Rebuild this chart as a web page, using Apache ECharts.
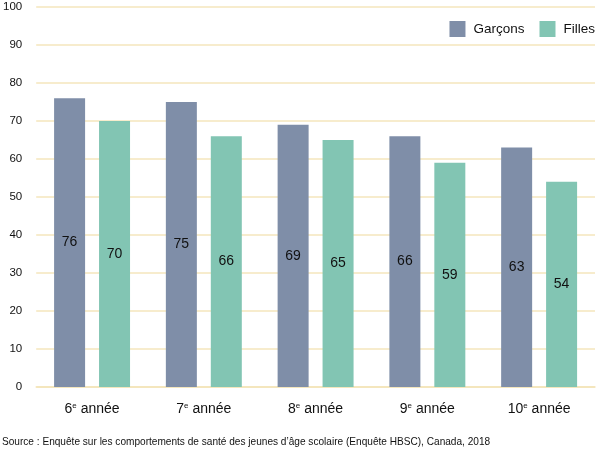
<!DOCTYPE html>
<html><head><meta charset="utf-8">
<script src="https://cdn.jsdelivr.net/npm/echarts@6/dist/echarts.min.js"></script>
<style>html,body{margin:0;padding:0;background:#fff}#c{width:600px;height:453px}</style>
</head><body><div id="c"></div>
<script>
const gradeNums = ['6', '7', '8', '9', '10'];
const garcons = [76, 75, 69, 66, 63];
const filles = [70, 66, 65, 59, 54];
const yTicks = [0, 10, 20, 30, 40, 50, 60, 70, 80, 90, 100];
const sourceText = "Source : Enquête sur les comportements de santé des jeunes d’âge scolaire (Enquête HBSC), Canada, 2018";

const chart = echarts.init(document.getElementById('c'));
const font = 'Liberation Sans, Arial, sans-serif';
chart.setOption({
  animation: false,
  textStyle: { fontFamily: font },
  grid: { left: 34, right: 5, top: 7, bottom: 66, containLabel: false },
  legend: {
    right: 0, top: 16, itemWidth: 16, itemHeight: 16, itemGap: 15,
    icon: 'rect',
    textStyle: { fontSize: 13.5, color: '#111', fontFamily: font, padding: [0, 0, 0, 3] },
    data: ['Garçons', 'Filles']
  },
  xAxis: {
    type: 'category',
    data: gradeNums,
    axisLine: { show: true, lineStyle: { color: '#f4e4b8', width: 1.5 } },
    axisTick: { show: false },
    axisLabel: {
      interval: 0,
      margin: 15,
      formatter: v => '{n|' + v + '}{s|e}{n| année}',
      rich: {
        n: { fontSize: 14, color: '#111', fontFamily: font },
        s: { fontSize: 8, color: '#111', fontFamily: font, verticalAlign: 'top', padding: [0, 0, 6, 0] }
      }
    }
  },
  yAxis: {
    type: 'value', min: 0, max: 100, interval: 10,
    axisLine: { show: false }, axisTick: { show: false },
    splitLine: { show: true, lineStyle: { color: '#f5e6bc', width: 1.5, opacity: 1 } },
    axisLabel: { fontSize: 11.5, color: '#111', margin: 14, fontFamily: font,
      formatter: v => yTicks.includes(v) ? String(v) : '' }
  },
  series: [
    { name: 'Garçons', type: 'bar', data: garcons, barWidth: 31, barGap: '45%',
      itemStyle: { color: '#7f8ea8' },
      label: { show: true, position: 'inside', fontSize: 14, color: '#111', fontFamily: font } },
    { name: 'Filles', type: 'bar', data: filles, barWidth: 31,
      itemStyle: { color: '#82c5b3' },
      label: { show: true, position: 'inside', fontSize: 14, color: '#111', fontFamily: font } }
  ],
  graphic: [{
    type: 'text', left: 2, top: 437,
    style: { text: sourceText, fontSize: 10.1, fill: '#111', fontFamily: font }
  }]
});
</script></body></html>
